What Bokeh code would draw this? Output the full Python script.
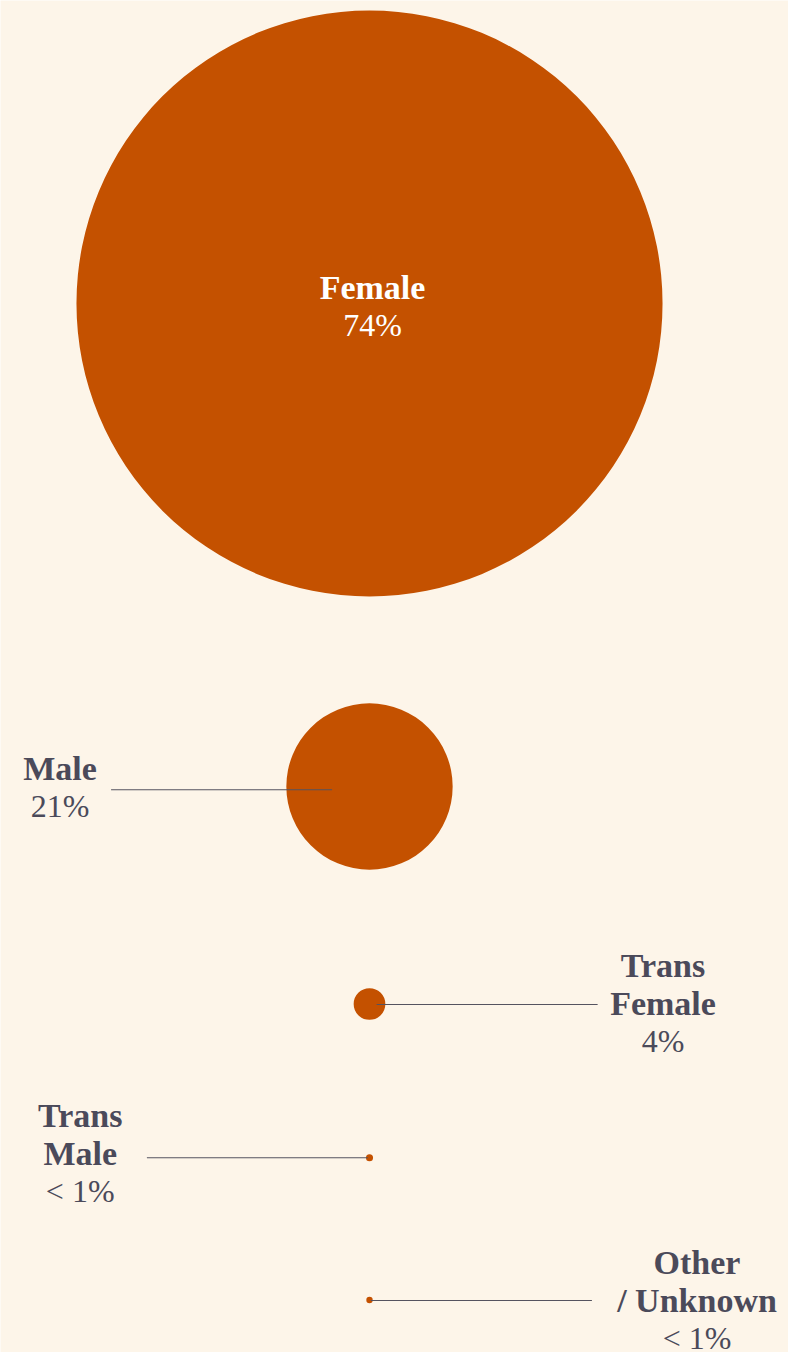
from bokeh.plotting import figure
from bokeh.models import Range1d, ColumnDataSource
from bokeh.core.properties import value
from bokeh.embed import file_html
from bokeh.resources import INLINE

# ---- data ----
categories = ["Female", "Male", "Trans Female", "Trans Male", "Other / Unknown"]
values = [74, 21, 4, 0.9, 0.8]
pct_labels = ["74%", "21%", "4%", "< 1%", "< 1%"]
name_lines = [["Female"], ["Male"], ["Trans", "Female"], ["Trans", "Male"], ["Other", "/ Unknown"]]

# ---- layout (pixel space of the figure) ----
W, H = 788, 1352
BG = "#fdf5e9"
ORANGE = "#c45100"
INK = "#4b4a5a"
cx = 369
cy = [303, 786, 1003.5, 1157.3, 1299.5]
label_x = [372, 59.5, 662.5, 79.7, 696.5]
label_y0 = [287, 768, 965, 1115, 1262]
line_y = [None, 789.3, 1004, 1157.3, 1300]
side = [0, -1, 1, -1, 1]
LINE_H = 37.7
SCALE = 3.96  # radius px per percent
FONT = "Liberation Serif"

p = figure(width=W, height=H, output_backend="svg", toolbar_location=None,
           x_range=Range1d(0, W), y_range=Range1d(H, 0), min_border=0)
p.axis.visible = False
p.grid.visible = False
p.outline_line_color = None
p.background_fill_color = BG
p.border_fill_color = BG

radii = [v * SCALE for v in values]
p.circle(x=[cx] * len(values), y=cy, radius=radii, fill_color=ORANGE, line_color=None)

# leader lines
for i in range(1, len(values)):
    inner = cx + side[i] * 0.45 * radii[i]
    outer = inner + side[i] * 221
    p.segment(x0=[inner], y0=[line_y[i]], x1=[outer], y1=[line_y[i]],
              line_color="#55535f", line_width=1.1)

# labels
bx, by, bt, bc = [], [], [], []
rx, ry, rt, rc = [], [], [], []
for i, lines in enumerate(name_lines):
    col = "#ffffff" if i == 0 else INK
    for j, t in enumerate(lines):
        bx.append(label_x[i]); by.append(label_y0[i] + j * LINE_H); bt.append(t); bc.append(col)
    rx.append(label_x[i]); ry.append(label_y0[i] + len(lines) * LINE_H); rt.append(pct_labels[i]); rc.append(col)

p.text(x="x", y="y", text="t", text_color="c",
       source=ColumnDataSource(dict(x=bx, y=by, t=bt, c=bc)),
       text_font=value(FONT), text_font_style="bold", text_font_size="34px",
       text_align="center", text_baseline="alphabetic")
p.text(x="x", y="y", text="t", text_color="c",
       source=ColumnDataSource(dict(x=rx, y=ry, t=rt, c=rc)),
       text_font=value(FONT), text_font_size="32px",
       text_align="center", text_baseline="alphabetic")

html = file_html(p, INLINE)
html = html.replace("<body>", '<body style="background:%s;">' % BG, 1)
open("out.html", "w").write(html)
